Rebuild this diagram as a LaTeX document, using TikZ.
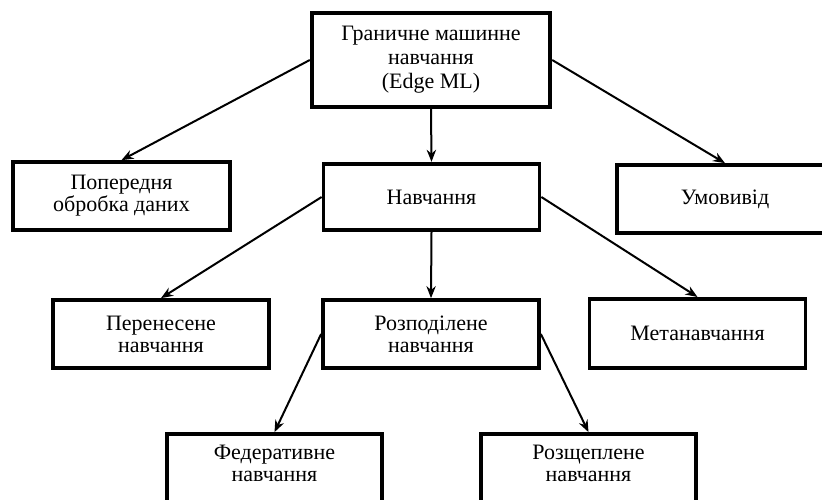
\documentclass[tikz,border=0pt]{standalone}
\usepackage{fontspec}
\setmainfont{Liberation Serif}
\usepackage{tikz}
\usetikzlibrary{arrows.meta,positioning}

\begin{document}
\begin{tikzpicture}[
    x=0.75pt,y=-0.75pt,
    every node/.style={font=\fontsize{16.5}{16.5}\selectfont},
    box/.style={draw=black,line width=2.8pt,rectangle,align=center,inner sep=2pt},
    arrow/.style={-{Stealth[length=9pt,width=7pt]},line width=1.5pt},
]
\useasboundingbox (0,0) rectangle (822,500);
\clip (0,0) rectangle (822,500);
% Root
\node[box,minimum width=179pt,minimum height=70pt,font=\fontsize{16.5}{18}\selectfont] (edge) at (431,60) {Граничне машинне\\навчання\\(Edge ML)};
% Second level
\node[box,minimum width=163pt,minimum height=51pt] (prep) at (121.5,196) {Попередня\\обробка даних};
\node[box,minimum width=162pt,minimum height=50pt] (train) at (431.5,197) {Навчання};
\node[box,minimum width=162pt,minimum height=51pt] (infer) at (725,199) {Умовивід};
% Third level
\node[box,minimum width=162pt,minimum height=51pt] (transfer) at (161,334) {Перенесене\\навчання};
\node[box,minimum width=162pt,minimum height=51pt] (distrib) at (431,334) {Розподілене\\навчання};
\node[box,minimum width=162pt,minimum height=52pt] (meta) at (697.5,333.5) {Метанавчання};
% Fourth level
\node[box,minimum width=161pt,minimum height=51pt,text depth=7pt] (fed) at (274.5,468) {Федеративне\\навчання};
\node[box,minimum width=161pt,minimum height=51pt,text depth=7pt] (split) at (588.5,468) {Розщеплене\\навчання};
% Connectors
\draw[arrow] (edge.west) -- (prep.north);
\draw[arrow] (edge.south) -- (train.north);
\draw[arrow] (edge.east) -- (infer.north);
\draw[arrow] (train.west) -- (transfer.north);
\draw[arrow] (train.south) -- (distrib.north);
\draw[arrow] (train.east) -- (meta.north);
\draw[arrow] (distrib.west) -- (fed.north);
\draw[arrow] (distrib.east) -- (split.north);
\end{tikzpicture}
\end{document}
